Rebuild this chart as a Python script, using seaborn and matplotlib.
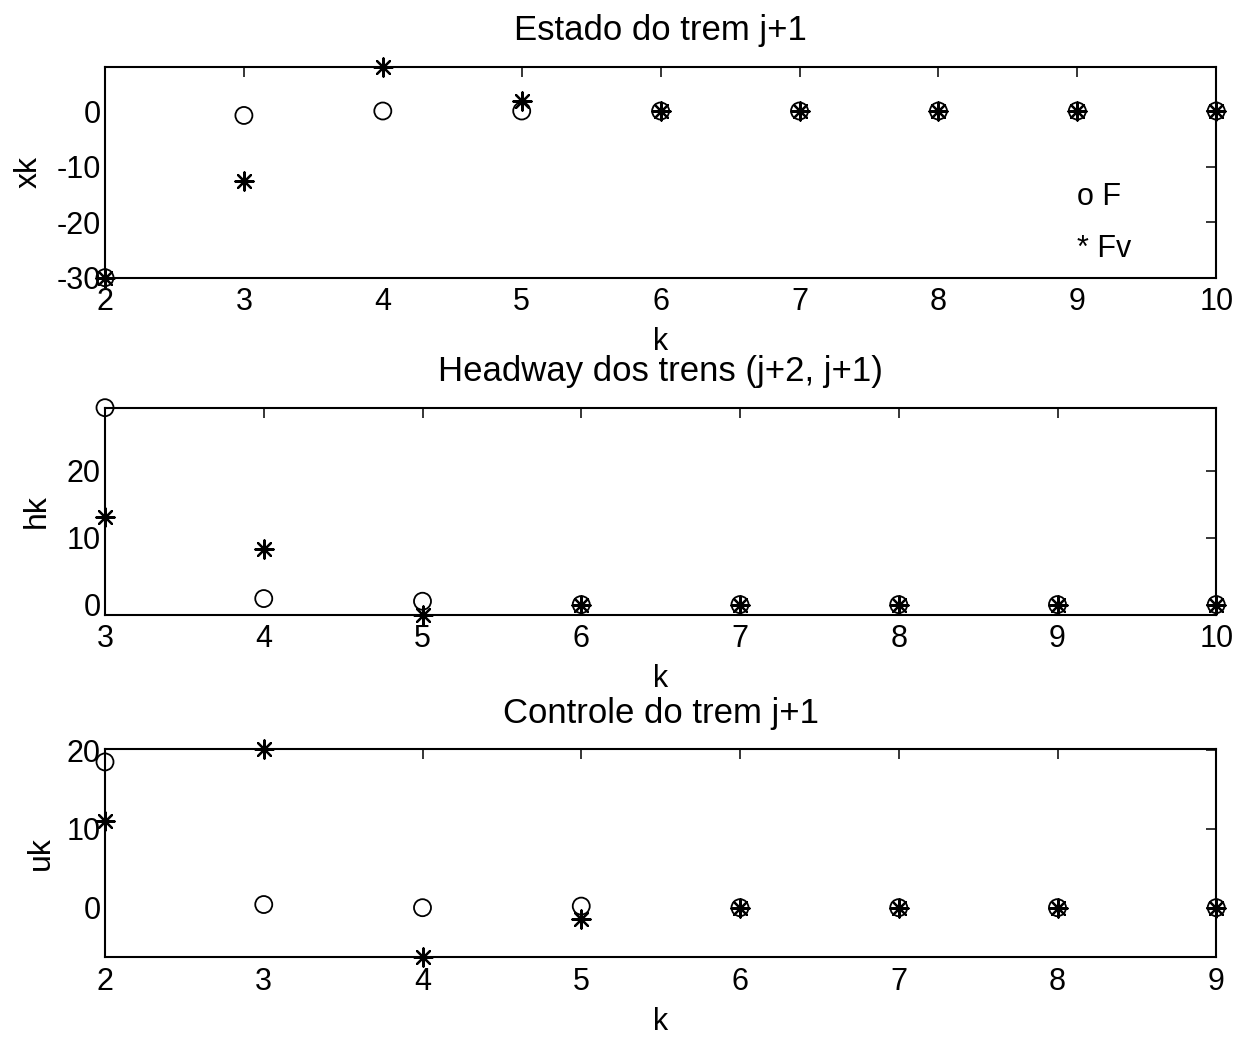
import numpy as np
import pandas as pd
import matplotlib
matplotlib.use("Agg")
import matplotlib.pyplot as plt
import seaborn as sns

# Estado do trem j+1
k_x = [2, 3, 4, 5, 6, 7, 8, 9, 10]
xk_F = [-30.0, -0.8, 0.0, 0.0, 0.0, 0.0, 0.0, 0.0, 0.0]
xk_Fv = [-30.0, -12.6, 8.0, 1.8, 0.0, 0.0, 0.0, 0.0, 0.0]

# Headway dos trens (j+2, j+1)
k_h = [3, 4, 5, 6, 7, 8, 9, 10]
hk_F = [29.4, 0.9, 0.5, 0.0, 0.0, 0.0, 0.0, 0.0]
hk_Fv = [13.1, 8.3, -1.5, 0.0, 0.0, 0.0, 0.0, 0.0]

# Controle do trem j+1
k_u = [2, 3, 4, 5, 6, 7, 8, 9]
uk_F = [18.5, 0.4, 0.0, 0.2, 0.0, 0.0, 0.0, 0.0]
uk_Fv = [11.0, 20.1, -6.3, -1.4, 0.0, 0.0, 0.0, 0.0]

titles = ["Estado do trem j+1", "Headway dos trens (j+2, j+1)", "Controle do trem j+1"]
ylabels = ["xk", "hk", "uk"]
yticks = [[-30, -20, -10, 0], [0, 10, 20], [0, 10, 20]]

sns.set_theme(style="white")
plt.rcParams["font.family"] = ["Liberation Sans", "DejaVu Sans"]
plt.rcParams["axes.unicode_minus"] = False
plt.rcParams["text.color"] = "black"

fig = plt.figure(figsize=(12.5, 10.4), dpi=100)
positions = [
    [0.084, 0.733, 0.889, 0.203],
    [0.084, 0.409, 0.889, 0.199],
    [0.084, 0.0795, 0.889, 0.200],
]
ylabel_x = [-0.055, -0.048, -0.0445]

panels = [
    (k_x, xk_F, xk_Fv),
    (k_h, hk_F, hk_Fv),
    (k_u, uk_F, uk_Fv),
]

# eight-armed asterisk marker
asterisk = (8, 2, 0)

for i, (pos, (kk, f, fv)) in enumerate(zip(positions, panels)):
    ax = fig.add_axes(pos)
    df = pd.DataFrame({"k": kk, "F": f, "Fv": fv})
    sns.scatterplot(data=df, x="k", y="F", ax=ax, marker="o", s=150,
                    facecolors="none", edgecolors="black", linewidth=1.3,
                    clip_on=False, zorder=3)
    sns.scatterplot(data=df, x="k", y="Fv", ax=ax, marker=asterisk, s=170,
                    color="black", linewidth=1.6, clip_on=False, zorder=4)
    ax.set_xlim(min(kk), max(kk))
    lo = min(min(f), min(fv))
    hi = max(max(f), max(fv))
    ax.set_ylim(lo, hi)
    ax.set_xticks(kk)
    ax.set_yticks(yticks[i])
    ax.tick_params(direction="in", top=True, right=True, length=7, width=1.1,
                   labelsize=22, colors="black")
    ax.tick_params(axis="x", pad=7)
    ax.tick_params(axis="y", pad=3)
    for sp in ax.spines.values():
        sp.set_visible(True)
        sp.set_color("black")
        sp.set_linewidth(1.5)
    ax.set_title(titles[i], fontsize=25, pad=19, color="black")
    ax.set_xlabel("k", fontsize=22, labelpad=7, color="black")
    ax.set_ylabel(ylabels[i], fontsize=23, color="black")
    ax.yaxis.set_label_coords(ylabel_x[i], 0.5)
    ax.grid(False)
    if i == 0:
        ax.text(9, -15.5, "o F", fontsize=22, va="center", ha="left", color="black")
        ax.text(9, -24.9, "* Fv", fontsize=22, va="center", ha="left", color="black")

fig.savefig("out.png", dpi=100, facecolor="white")
